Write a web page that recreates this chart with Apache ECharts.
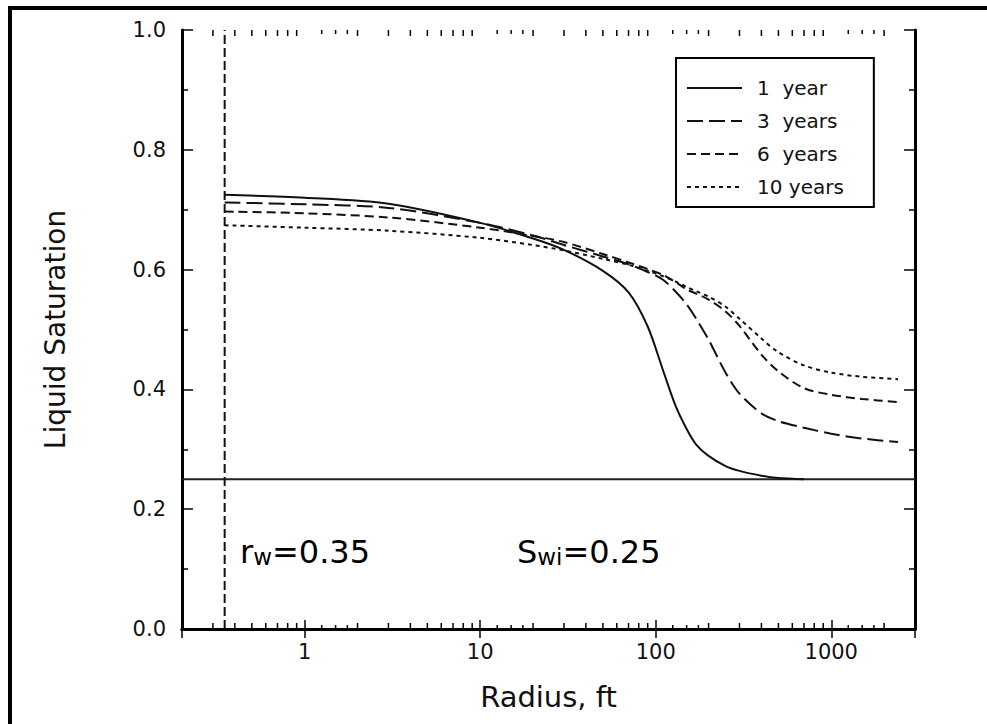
<!DOCTYPE html>
<html>
<head>
<meta charset="utf-8">
<script src="https://cdn.jsdelivr.net/npm/echarts@6/dist/echarts.min.js"></script>
<style>
  html, body { margin: 0; padding: 0; background: #fff; }
  #chart { width: 987px; height: 724px; }
</style>
</head>
<body>
<div id="chart"></div>
<script>
// radius, ft (shared grid)
const radius = [0.35, 1, 3, 10, 20, 30, 50, 70, 90, 110, 130, 150, 170, 200, 250, 300, 400, 500, 700, 1000, 1500, 2400];
// liquid saturation per elapsed time
const sat1yr  = [0.725, 0.720, 0.710, 0.678, 0.652, 0.633, 0.598, 0.562, 0.505, 0.432, 0.372, 0.334, 0.308, 0.289, 0.272, 0.264, 0.256, 0.252, 0.250, null, null, null];
const sat3yr  = [0.712, 0.709, 0.703, 0.678, 0.657, 0.641, 0.622, 0.609, 0.596, 0.583, 0.563, 0.542, 0.518, 0.483, 0.428, 0.393, 0.360, 0.347, 0.336, 0.326, 0.318, 0.312];
const sat6yr  = [0.697, 0.694, 0.687, 0.670, 0.656, 0.646, 0.626, 0.612, 0.601, 0.591, 0.579, 0.567, 0.560, 0.550, 0.530, 0.506, 0.458, 0.430, 0.402, 0.391, 0.384, 0.379];
const sat10yr = [0.674, 0.670, 0.665, 0.653, 0.641, 0.632, 0.618, 0.608, 0.598, 0.589, 0.580, 0.571, 0.564, 0.555, 0.538, 0.518, 0.485, 0.462, 0.440, 0.428, 0.421, 0.417];
const seriesNames = ['1  year', '3  years', '6  years', '10 years'];

const rw = 0.35;   // wellbore radius
const swi = 0.25;  // initial water saturation
const xMin = 0.2, xMax = 3000;

// log axis minor ticks
const minorTicksX = [0.3, 0.4, 0.5, 0.6, 0.7, 0.8, 0.9,
  2, 3, 4, 5, 6, 7, 8, 9, 20, 30, 40, 50, 60, 70, 80, 90,
  200, 300, 400, 500, 600, 700, 800, 900, 2000];
const fineTicksX = [1.25, 1.5, 1.75, 12.5, 15, 17.5, 125, 150, 175, 1250, 1500, 1750];

const font = 'DejaVu Sans';
const ink = '#000';

function pairs(vals) {
  return radius.map((r, i) => [r, vals[i]]).filter(p => p[1] != null);
}

const dashes = ['solid', [16, 6], [9, 5], [4, 4]];
const satSets = [sat1yr, sat3yr, sat6yr, sat10yr];

const curveSeries = satSets.map((vals, i) => ({
  name: seriesNames[i],
  type: 'line',
  data: pairs(vals),
  smooth: 0.3,
  symbol: 'none',
  silent: true,
  lineStyle: { color: '#111', width: 2, type: dashes[i] },
  itemStyle: { color: '#111' },
  z: 3
}));

const chart = echarts.init(document.getElementById('chart'), null, { renderer: 'svg' });

const tickData = minorTicksX.map(v => [v, 0]).concat(fineTicksX.map(v => [v, 1]));

const noteRich = {
  a: { fontFamily: font, fontSize: 32, color: '#111', verticalAlign: 'bottom', lineHeight: 38 },
  b: { fontFamily: font, fontSize: 23, color: '#111', verticalAlign: 'bottom', lineHeight: 32 }
};

const option = {
  backgroundColor: '#fff',
  animation: false,
  grid: { left: 182, right: 72, top: 30, bottom: 95, outerBoundsMode: 'none' },
  legend: {
    data: seriesNames,
    orient: 'vertical',
    left: 676, top: 58,
    itemWidth: 55, itemHeight: 20, itemGap: 13,
    padding: [20, 30, 10, 10],
    borderColor: ink, borderWidth: 2,
    backgroundColor: '#fff',
    selectedMode: false,
    itemStyle: { opacity: 0 },
    textStyle: { fontFamily: font, fontSize: 20, color: '#111', padding: [0, 0, 0, 10] }
  },
  xAxis: [
    {
      type: 'log', logBase: 10, min: xMin, max: xMax, position: 'bottom',
      name: 'Radius, ft', nameLocation: 'middle', nameGap: 53,
      nameTextStyle: { fontFamily: font, fontSize: 29, color: '#111' },
      axisLine: { lineStyle: { color: ink, width: 3 } },
      axisTick: { inside: true, length: 9, lineStyle: { color: ink, width: 1.5 } },
      axisLabel: { fontFamily: font, fontSize: 21, color: '#111', margin: 12,
        showMinLabel: false, showMaxLabel: false, formatter: v => String(v) },
      splitLine: { show: false }
    },
    {
      type: 'log', logBase: 10, min: xMin, max: xMax, position: 'top',
      axisLine: { lineStyle: { color: ink, width: 3 } },
      axisTick: { inside: true, length: 9, lineStyle: { color: ink, width: 1.5 } },
      axisLabel: { show: false },
      splitLine: { show: false }
    }
  ],
  yAxis: [
    {
      type: 'value', min: 0, max: 1, interval: 0.2, position: 'left',
      name: 'Liquid Saturation', nameLocation: 'middle', nameGap: 113,
      nameTextStyle: { fontFamily: font, fontSize: 28, color: '#111' },
      axisLine: { show: true, lineStyle: { color: ink, width: 3 } },
      axisTick: { show: true, inside: true, length: 11, lineStyle: { color: ink, width: 1.5 } },
      minorTick: { show: true, splitNumber: 2, length: 6, lineStyle: { color: ink, width: 1.5 } },
      axisLabel: { fontFamily: font, fontSize: 21, color: '#111', margin: 16, formatter: v => v.toFixed(1) },
      splitLine: { show: false }
    },
    {
      type: 'value', min: 0, max: 1, interval: 0.2, position: 'right',
      axisLine: { show: true, lineStyle: { color: ink, width: 3 } },
      axisTick: { show: true, inside: true, length: 11, lineStyle: { color: ink, width: 1.5 } },
      minorTick: { show: true, splitNumber: 2, length: 6, lineStyle: { color: ink, width: 1.5 } },
      axisLabel: { show: false },
      splitLine: { show: false }
    }
  ],
  series: curveSeries.concat([
    {
      name: 'Swi',
      type: 'line',
      data: [[xMin, swi], [xMax, swi]],
      symbol: 'none', silent: true,
      lineStyle: { color: '#222', width: 2 },
      z: 2
    },
    {
      name: 'rw',
      type: 'line',
      data: [[rw, 0], [rw, 1]],
      symbol: 'none', silent: true,
      lineStyle: { color: '#111', width: 2, type: [9, 4] },
      z: 2
    },
    {
      name: 'minor ticks',
      type: 'custom',
      silent: true,
      data: tickData,
      renderItem: (params, api) => {
        const x = api.value(0);
        const len = api.value(1) === 1 ? 4 : 6;
        const b = api.coord([x, 0]);
        const t = api.coord([x, 1]);
        const st = { stroke: ink, lineWidth: 1.5 };
        return {
          type: 'group',
          children: [
            { type: 'line', shape: { x1: b[0], y1: b[1], x2: b[0], y2: b[1] - len }, style: st },
            { type: 'line', shape: { x1: t[0], y1: t[1], x2: t[0], y2: t[1] + len }, style: st }
          ]
        };
      },
      z: 4
    }
  ]),
  graphic: [
    // outer frame (top and left edges only)
    { type: 'line', shape: { x1: 8, y1: 8, x2: 987, y2: 8 }, style: { stroke: ink, lineWidth: 4 } },
    { type: 'line', shape: { x1: 10, y1: 6, x2: 10, y2: 724 }, style: { stroke: ink, lineWidth: 4 } },
    { type: 'text', left: 240, top: 536, style: { text: '{a|r}{b|w}{a|=0.35}', rich: noteRich } },
    { type: 'text', left: 517, top: 536, style: { text: '{a|S}{b|wi}{a|=0.25}', rich: noteRich } }
  ]
};

chart.setOption(option);
</script>
</body>
</html>
